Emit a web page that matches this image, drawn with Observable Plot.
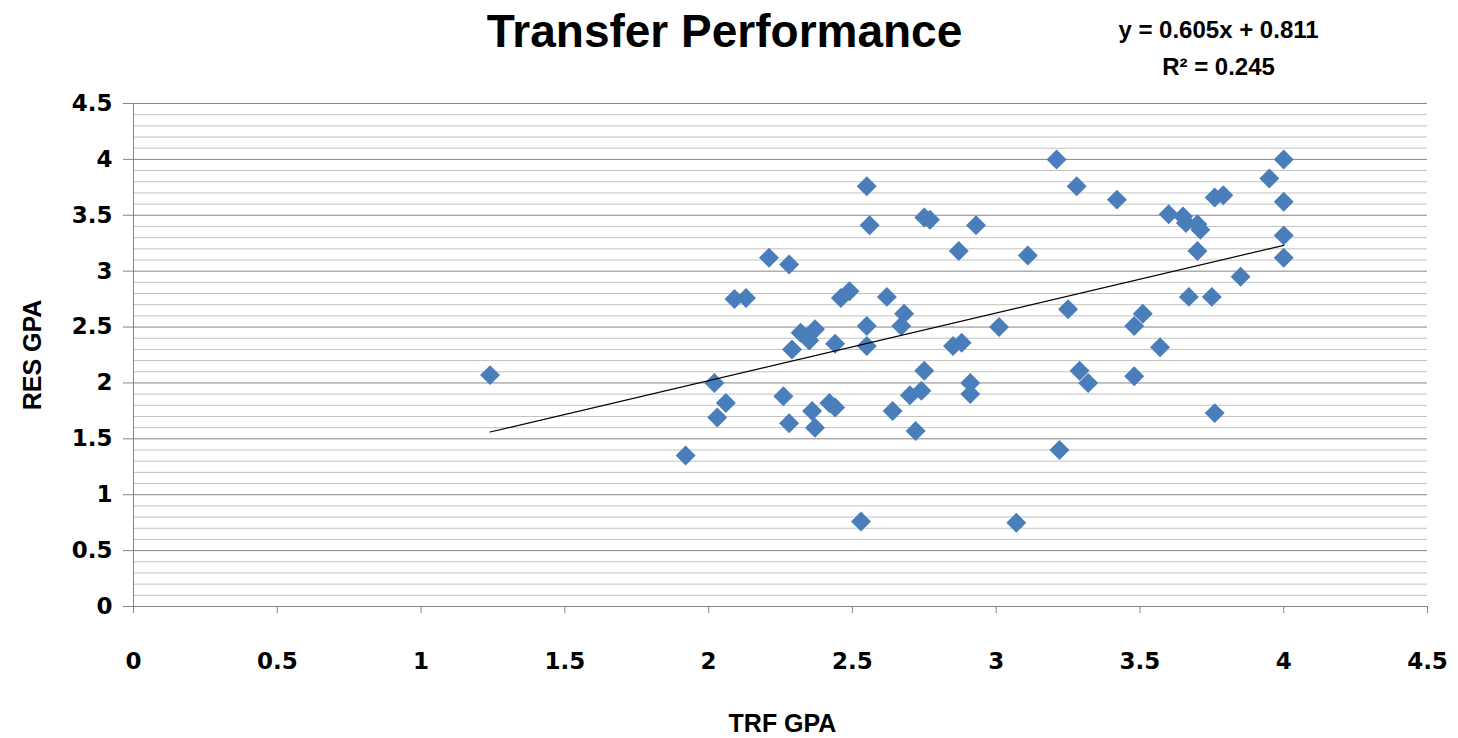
<!DOCTYPE html>
<html>
<head>
<meta charset="utf-8">
<script src="https://cdn.jsdelivr.net/npm/d3@7"></script>
<script src="https://cdn.jsdelivr.net/npm/@observablehq/plot@0.6"></script>
<style>
  html, body { margin: 0; padding: 0; background: #fff; }
  #chart { width: 1458px; height: 738px; }
</style>
</head>
<body>
<div id="chart"></div>
<script>
// ---- Data ----
const trfGpa = [
  1.24, 1.92, 2.02, 2.03, 2.06, 2.09, 2.13, 2.21, 2.26, 2.28,
  2.28, 2.29, 2.32, 2.35, 2.37, 2.36, 2.37, 2.42, 2.44, 2.44,
  2.46, 2.49, 2.53, 2.55, 2.56, 2.55, 2.55, 2.62, 2.64, 2.67,
  2.68, 2.70, 2.72, 2.74, 2.75, 2.75, 2.77, 2.85, 2.87, 2.88,
  2.91, 2.91, 2.93, 3.01, 3.07, 3.11, 3.21, 3.22, 3.25, 3.28,
  3.29, 3.32, 3.42, 3.48, 3.48, 3.51, 3.57, 3.60, 3.65, 3.66,
  3.67, 3.70, 3.71, 3.70, 3.75, 3.76, 3.79, 3.76, 3.85, 3.95,
  4.00, 4.00, 4.00, 4.00
];
const resGpa = [
  2.07, 1.35, 2.00, 1.69, 1.82, 2.75, 2.76, 3.12, 1.88, 3.06,
  1.64, 2.30, 2.45, 2.38, 2.48, 1.75, 1.60, 1.82, 1.78, 2.35,
  2.76, 2.82, 0.76, 3.76, 3.41, 2.51, 2.33, 2.77, 1.75, 2.51,
  2.62, 1.89, 1.57, 1.93, 2.11, 3.48, 3.46, 2.33, 3.18, 2.36,
  2.00, 1.90, 3.41, 2.50, 0.75, 3.14, 4.00, 1.40, 2.66, 3.76,
  2.11, 2.00, 3.64, 2.06, 2.51, 2.62, 2.32, 3.51, 3.49, 3.43,
  2.77, 3.42, 3.37, 3.18, 2.77, 3.66, 3.68, 1.73, 2.95, 3.83,
  4.00, 3.62, 3.32, 3.12
];
const trendSlope = 0.605;
const trendIntercept = 0.811;
const rSquared = 0.245;
const axisTicks = [0, 0.5, 1, 1.5, 2, 2.5, 3, 3.5, 4, 4.5];
const minorStep = 0.1;

const titleText = "Transfer Performance";
const xTitle = "TRF GPA";
const yTitle = "RES GPA";
const eqText = `y = ${trendSlope}x + ${trendIntercept}`;
const r2Text = `R² = ${rSquared}`;

// ---- Derived tables ----
const points = trfGpa.map((x, i) => ({x, y: resGpa[i]}));
const xMin = d3.min(trfGpa), xMax = d3.max(trfGpa);
const trend = [xMin, xMax].map(x => ({x, y: trendSlope * x + trendIntercept}));
const minorTicks = d3.range(0, 4.5 + 1e-9, minorStep)
  .map(v => Math.round(v * 10) / 10)
  .filter(v => !axisTicks.some(t => Math.abs(t - v) < 1e-9));

const gray = "#868686";
const blue = "#4a7ebb";
const labelFont = "DejaVu Sans, sans-serif";
const titleFont = "Liberation Sans, Arial, sans-serif";

const chart = Plot.plot({
  width: 1458,
  height: 738,
  marginLeft: 133,
  marginRight: 31,
  marginTop: 103,
  marginBottom: 132,
  x: {domain: [0, 4.5], label: null, axis: null},
  y: {domain: [0, 4.5], label: null, axis: null},
  marks: [
    Plot.gridY(minorTicks, {stroke: "#c2c2c2", strokeOpacity: 1, strokeWidth: 1}),
    Plot.gridY(axisTicks, {stroke: gray, strokeOpacity: 1, strokeWidth: 1}),
    Plot.ruleX([0], {stroke: gray, strokeWidth: 1}),
    Plot.ruleY([0], {stroke: gray, strokeWidth: 1}),
    // tick marks
    Plot.axisY(axisTicks, {anchor: "left", tickSize: 10, stroke: gray, tickFormat: () => ""}),
    Plot.axisX(axisTicks, {anchor: "bottom", tickSize: 7, stroke: gray, tickFormat: () => ""}),
    // tick labels
    Plot.axisY(axisTicks, {anchor: "left", tickSize: 0, tickPadding: 21, fill: "#000",
      fontSize: 23, fontWeight: "bold", fontFamily: labelFont, tickFormat: d => String(d)}),
    Plot.axisX(axisTicks, {anchor: "bottom", tickSize: 0, tickPadding: 46, fill: "#000",
      fontSize: 23, fontWeight: "bold", fontFamily: labelFont, tickFormat: d => String(d)}),
    // data
    Plot.dot(points, {x: "x", y: "y", symbol: "diamond2", r: 9, fill: blue, stroke: "none"}),
    Plot.line(trend, {x: "x", y: "y", stroke: "#000", strokeWidth: 1.2}),
    // titles
    Plot.text([titleText], {frameAnchor: "top-left", dx: 591, dy: -57, text: d => d,
      textAnchor: "middle", lineAnchor: "bottom", fontSize: 46, fontWeight: "bold",
      fontFamily: titleFont, fill: "#000"}),
    Plot.text([eqText], {frameAnchor: "top-left", dx: 1085, dy: -66, text: d => d,
      textAnchor: "middle", lineAnchor: "bottom", fontSize: 24, fontWeight: "bold",
      fontFamily: titleFont, fill: "#000"}),
    Plot.text([r2Text], {frameAnchor: "top-left", dx: 1085, dy: -29, text: d => d,
      textAnchor: "middle", lineAnchor: "bottom", fontSize: 24, fontWeight: "bold",
      fontFamily: titleFont, fill: "#000"}),
    Plot.text([xTitle], {frameAnchor: "bottom-left", dx: 649, dy: 125, text: d => d,
      textAnchor: "middle", lineAnchor: "bottom", fontSize: 25, fontWeight: "bold",
      fontFamily: titleFont, fill: "#000"}),
    Plot.text([yTitle], {frameAnchor: "left", dx: -101, dy: 0, text: d => d, rotate: -90,
      textAnchor: "middle", lineAnchor: "middle", fontSize: 25, fontWeight: "bold",
      fontFamily: titleFont, fill: "#000"})
  ]
});
document.getElementById("chart").appendChild(chart);
</script>
</body>
</html>
